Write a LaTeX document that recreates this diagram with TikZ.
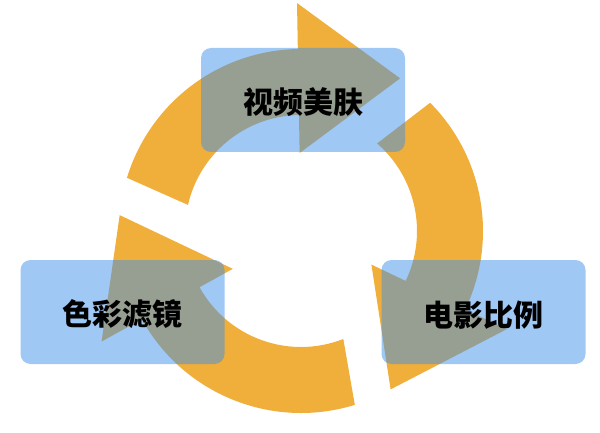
\documentclass[tikz,border=0pt]{standalone}
\usepackage{fontspec}
\newfontfamily\cjk{Noto Sans CJK SC}
\definecolor{arr}{RGB}{240,174,58}
\definecolor{boxc}{RGB}{64,145,236}
% #1 tail outer angle, #2 tail inner angle, #3 head base angle, #4 tip angle
\newcommand\cyclearrow[4]{%
  \fill[ring] ([shift={(#1:182)}]C) arc[start angle=#1, end angle=#3, radius=182]
    -- ([shift={(#3:228)}]C) -- ([shift={(#4:182)}]C) -- ([shift={(#3:78)}]C)
    -- ([shift={(#3:116)}]C) arc[start angle=#3, end angle=#2, radius=116] -- cycle;
}
\begin{document}
\begin{tikzpicture}[x=1pt,y=1pt,
  ring/.style={fill=arr, draw=none},
  card/.style={fill=boxc, fill opacity=0.5, text opacity=1, draw=none,
    rounded corners=10pt, minimum width=204pt, minimum height=104pt, inner sep=0pt,
    font=\cjk\bfseries\fontsize{30}{32}\selectfont, text=black},
  label/.style={font=\cjk\bfseries\fontsize{30}{32}\selectfont, text=black, inner sep=0pt}]
\useasboundingbox (0,0) rectangle (600,432);
\coordinate (C) at (301,201);
\cyclearrow{163}{167}{91}{57}
\cyclearrow{44.8}{49}{-25.5}{-60.5}
\cyclearrow{-72.8}{-68.6}{-151}{175}
\node[card] (top) at (303,332) {};
\node[card] (left) at (122.5,120) {};
\node[card] (right) at (483.5,120) {};
\node[label] (topt) at ([yshift=-2.5pt]top.center) {视频美肤};
\node[label] (leftt) at ([yshift=-2pt]left.center) {色彩滤镜};
\node[label] (rightt) at ([yshift=-3pt]right.center) {电影比例};
\end{tikzpicture}
\end{document}
